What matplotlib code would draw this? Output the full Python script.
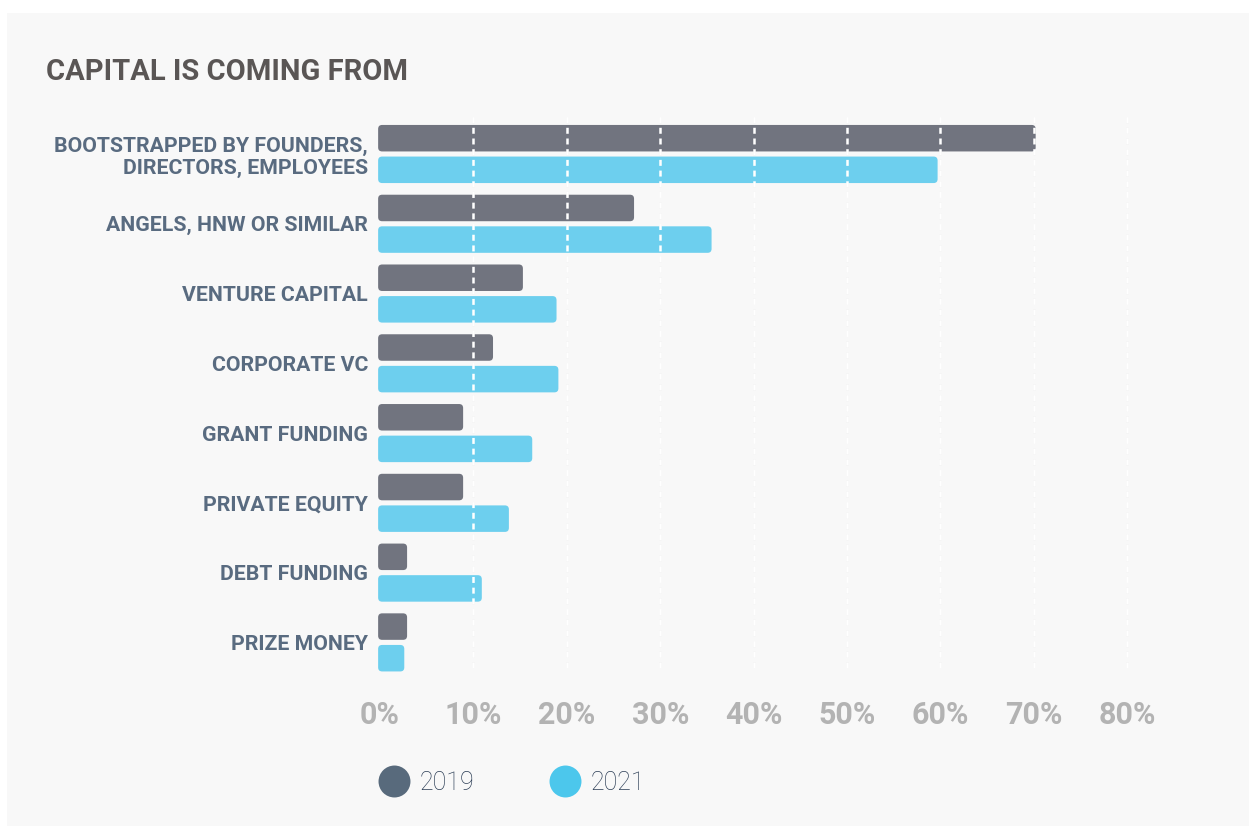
import matplotlib
matplotlib.use("Agg")
import matplotlib.pyplot as plt
import numpy as np
from matplotlib.lines import Line2D
from matplotlib.patches import FancyBboxPatch, Rectangle

CATEGORIES = [
    "BOOTSTRAPPED BY FOUNDERS,\nDIRECTORS, EMPLOYEES",
    "ANGELS, HNW OR SIMILAR",
    "VENTURE CAPITAL",
    "CORPORATE VC",
    "GRANT FUNDING",
    "PRIVATE EQUITY",
    "DEBT FUNDING",
    "PRIZE MONEY",
]
SHARE_2019 = [70.2, 27.2, 15.3, 12.1, 8.9, 8.9, 2.9, 2.9]
SHARE_2021 = [59.7, 35.5, 18.9, 19.1, 16.3, 13.8, 10.9, 2.6]
SERIES_LABELS = ["2019", "2021"]
X_TICKS = [0, 10, 20, 30, 40, 50, 60, 70, 80]

BAR_COLORS = ["#71747f", "#6dcfee"]
LEGEND_COLORS = ["#586a7c", "#4cc7ec"]
PANEL = "#f8f8f8"

plt.rcParams["font.family"] = ["Roboto", "DejaVu Sans"]
plt.rcParams["lines.scale_dashes"] = False

W, H = 1249, 826
fig = plt.figure(figsize=(W / 100, H / 100), dpi=100, facecolor="white")
fig.patches.append(Rectangle((7 / W, 0), 1 - 7 / W, 1 - 13 / H, transform=fig.transFigure,
                             facecolor=PANEL, edgecolor="none", zorder=-5))

# axes placed in pixel terms: x=0 sits at 380px, 9.34px per percent
px_per_pct = 9.34
ax_left, ax_right, ax_top, ax_bottom = 370, 1180, 113, 668
ax = fig.add_axes([ax_left / W, 1 - ax_bottom / H, (ax_right - ax_left) / W, (ax_bottom - ax_top) / H])
ax.set_facecolor("none")
ax.set_xlim((ax_left - 380) / px_per_pct, (ax_right - 380) / px_per_pct)

group_px = 69.77
center0 = 154
ax.set_ylim((ax_bottom - center0) / group_px, (ax_top - center0) / group_px)

y = np.arange(len(CATEGORIES))
offset = 15.8 / group_px
bar_h = 26.5 / group_px

# rounded bars, corner radius ~4px in both directions
radius = 4 / px_per_pct
aspect = (1 / group_px) / (1 / px_per_pct)
for vals, color, sign in [(SHARE_2019, BAR_COLORS[0], -1), (SHARE_2021, BAR_COLORS[1], 1)]:
    bars = ax.barh(y + sign * offset, vals, height=bar_h, color="none", edgecolor="none")
    for rect in bars:
        x0, y0 = rect.get_x(), rect.get_y()
        w, h = rect.get_width(), rect.get_height()
        ax.add_patch(FancyBboxPatch((x0 - 0.2, y0), w + 0.2, h,
                                    boxstyle=f"round,pad=0,rounding_size={radius}",
                                    mutation_aspect=aspect, facecolor=color,
                                    edgecolor="none", zorder=2, clip_on=False))

# dashed grid: grey behind the bars, white over them
grid_x = X_TICKS[1:]
ax.vlines(grid_x, 0, 1, transform=ax.get_xaxis_transform(), colors="#e6e6e6",
          linewidth=1.8, linestyles=(0, (4.3, 3.4)), zorder=1)
ax.vlines(grid_x, 0, 1, transform=ax.get_xaxis_transform(), colors="white",
          linewidth=1.8, linestyles=(0, (4.3, 3.4)), zorder=3)

for side in ax.spines.values():
    side.set_visible(False)

ax.set_xticks(X_TICKS)
ax.set_xticklabels([f"{t}%" for t in X_TICKS], fontsize=22, fontweight="bold", color="#b3b3b3")
ax.tick_params(axis="x", length=0, pad=23)
ax.set_yticks(y)
ax.set_yticklabels(CATEGORIES, fontsize=15.3, fontweight="semibold", color="#596b80",
                   linespacing=1.2)
ax.tick_params(axis="y", length=0, pad=1.5)

fig.text(46 / W, 1 - 71.5 / H, "CAPITAL IS COMING FROM", fontsize=21, fontweight="semibold",
         color="#5a5655", va="center", ha="left")

handles = [Line2D([], [], marker="o", linestyle="none", markersize=23, markerfacecolor=c,
                  markeredgecolor="none") for c in LEGEND_COLORS]
leg = fig.legend(handles, SERIES_LABELS, loc="center left", bbox_to_anchor=(356 / W, 1 - 783 / H),
                 ncol=2, frameon=False, handletextpad=0.45, columnspacing=3.0,
                 prop={"size": 18, "weight": "light"}, handlelength=1.2)
for t in leg.get_texts():
    t.set_color("#2b3d55")

fig.savefig("out.png", dpi=100, facecolor="white")
